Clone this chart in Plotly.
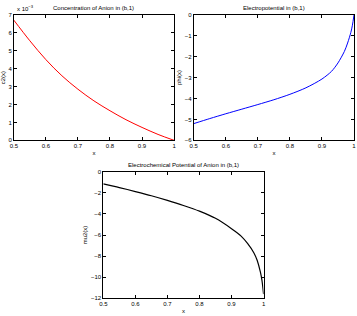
import plotly.graph_objects as go

# data
x_c = [0.5, 0.55, 0.6, 0.65, 0.7, 0.75, 0.8, 0.85, 0.9, 0.95, 1.0]
c2 = [6.7e-3, 5.55e-3, 4.5e-3, 3.6e-3, 2.85e-3, 2.2e-3, 1.65e-3, 1.15e-3, 0.72e-3, 0.33e-3, 0.0]

x_p = [0.5, 0.55, 0.6, 0.65, 0.7, 0.75, 0.8, 0.85, 0.9, 0.93, 0.95, 0.97, 0.98, 0.99, 0.995, 1.0]
phi = [-5.2, -4.96, -4.73, -4.51, -4.29, -4.06, -3.8, -3.49, -3.07, -2.7, -2.3, -1.75, -1.35, -0.85, -0.5, 0.0]
mu2 = [-1.15, -1.5, -1.88, -2.28, -2.72, -3.2, -3.74, -4.42, -5.4, -6.1, -6.8, -7.7, -8.4, -9.5, -10.3, -11.6]

x_ticks = [0.5, 0.6, 0.7, 0.8, 0.9, 1]
x_tick_text = ["0.5", "0.6", "0.7", "0.8", "0.9", "1"]
c_ticks = [i * 1e-3 for i in range(8)]
c_tick_text = [str(i) for i in range(8)]
phi_ticks = [0, -1, -2, -3, -4, -5, -6]
mu_ticks = [0, -2, -4, -6, -8, -10, -12]

titles = ["Concentration of Anion in (b,1)", "Electropotential in (b,1)",
          "Electrochemical Potential of Anion in (b,1)"]
ylabels = ["c2(x)", "phi(x)", "mu2(x)"]

FONT = "Liberation Sans, Arial, sans-serif"
W, H = 357, 316

def px(v):
    return v / W

def py(v):
    return 1 - v / H

fig = go.Figure()
fig.add_trace(go.Scatter(x=x_c, y=c2, mode="lines",
                         line=dict(color="#ff0000", width=1, shape="spline", smoothing=1),
                         xaxis="x", yaxis="y", showlegend=False))
fig.add_trace(go.Scatter(x=x_p, y=phi, mode="lines",
                         line=dict(color="#0000ff", width=1, shape="spline", smoothing=0.8),
                         xaxis="x2", yaxis="y2", showlegend=False))
fig.add_trace(go.Scatter(x=x_p, y=mu2, mode="lines",
                         line=dict(color="#000000", width=1.2, shape="spline", smoothing=0.8),
                         xaxis="x3", yaxis="y3", showlegend=False))

ax_common = dict(showline=True, linecolor="black", linewidth=0.8, mirror="ticks",
                 ticks="inside", ticklen=3, tickcolor="black", tickwidth=0.6,
                 showgrid=False, zeroline=False,
                 tickfont=dict(family=FONT, size=6, color="black"))

doms = [
    ((10, 173), (12, 140)),
    ((193, 356), (12, 140)),
    ((101, 264), (172, 301)),
]
yranges = [[0, 7e-3], [-6, 0], [-12, 0]]
yticks = [(c_ticks, c_tick_text), (phi_ticks, [str(v).replace("-", "\u2212") for v in phi_ticks]),
          (mu_ticks, [str(v).replace("-", "\u2212") for v in mu_ticks])]

layout = dict(width=W, height=H, margin=dict(l=0, r=0, t=0, b=0),
              paper_bgcolor="white", plot_bgcolor="white", showlegend=False)
annotations = []
for i, ((x0, x1), (y0, y1)) in enumerate(doms):
    sfx = "" if i == 0 else str(i + 1)
    layout["xaxis" + sfx] = dict(ax_common, domain=[px(x0), px(x1)], range=[0.5, 1],
                                 tickvals=x_ticks, ticktext=x_tick_text,
                                 anchor="y" + sfx,
                                 title=dict(text="x", font=dict(family=FONT, size=6, color="black"),
                                            standoff=2))
    layout["yaxis" + sfx] = dict(ax_common, domain=[py(y1), py(y0)], range=yranges[i],
                                 tickvals=yticks[i][0], ticktext=yticks[i][1],
                                 anchor="x" + sfx,
                                 title=dict(text=ylabels[i], font=dict(family=FONT, size=6, color="black"),
                                            standoff=2))
    annotations.append(dict(text=titles[i], x=(px(x0) + px(x1)) / 2, y=py(y0 - 2),
                            xref="paper", yref="paper", xanchor="center", yanchor="bottom",
                            showarrow=False, font=dict(family=FONT, size=6, color="black")))

annotations.append(dict(text="x 10<sup>\u22123</sup>", x=px(11), y=py(11), xref="paper", yref="paper",
                        xanchor="left", yanchor="bottom", showarrow=False,
                        font=dict(family=FONT, size=6, color="black")))
layout["annotations"] = annotations
fig.update_layout(**layout)
fig.write_html("out.html")
